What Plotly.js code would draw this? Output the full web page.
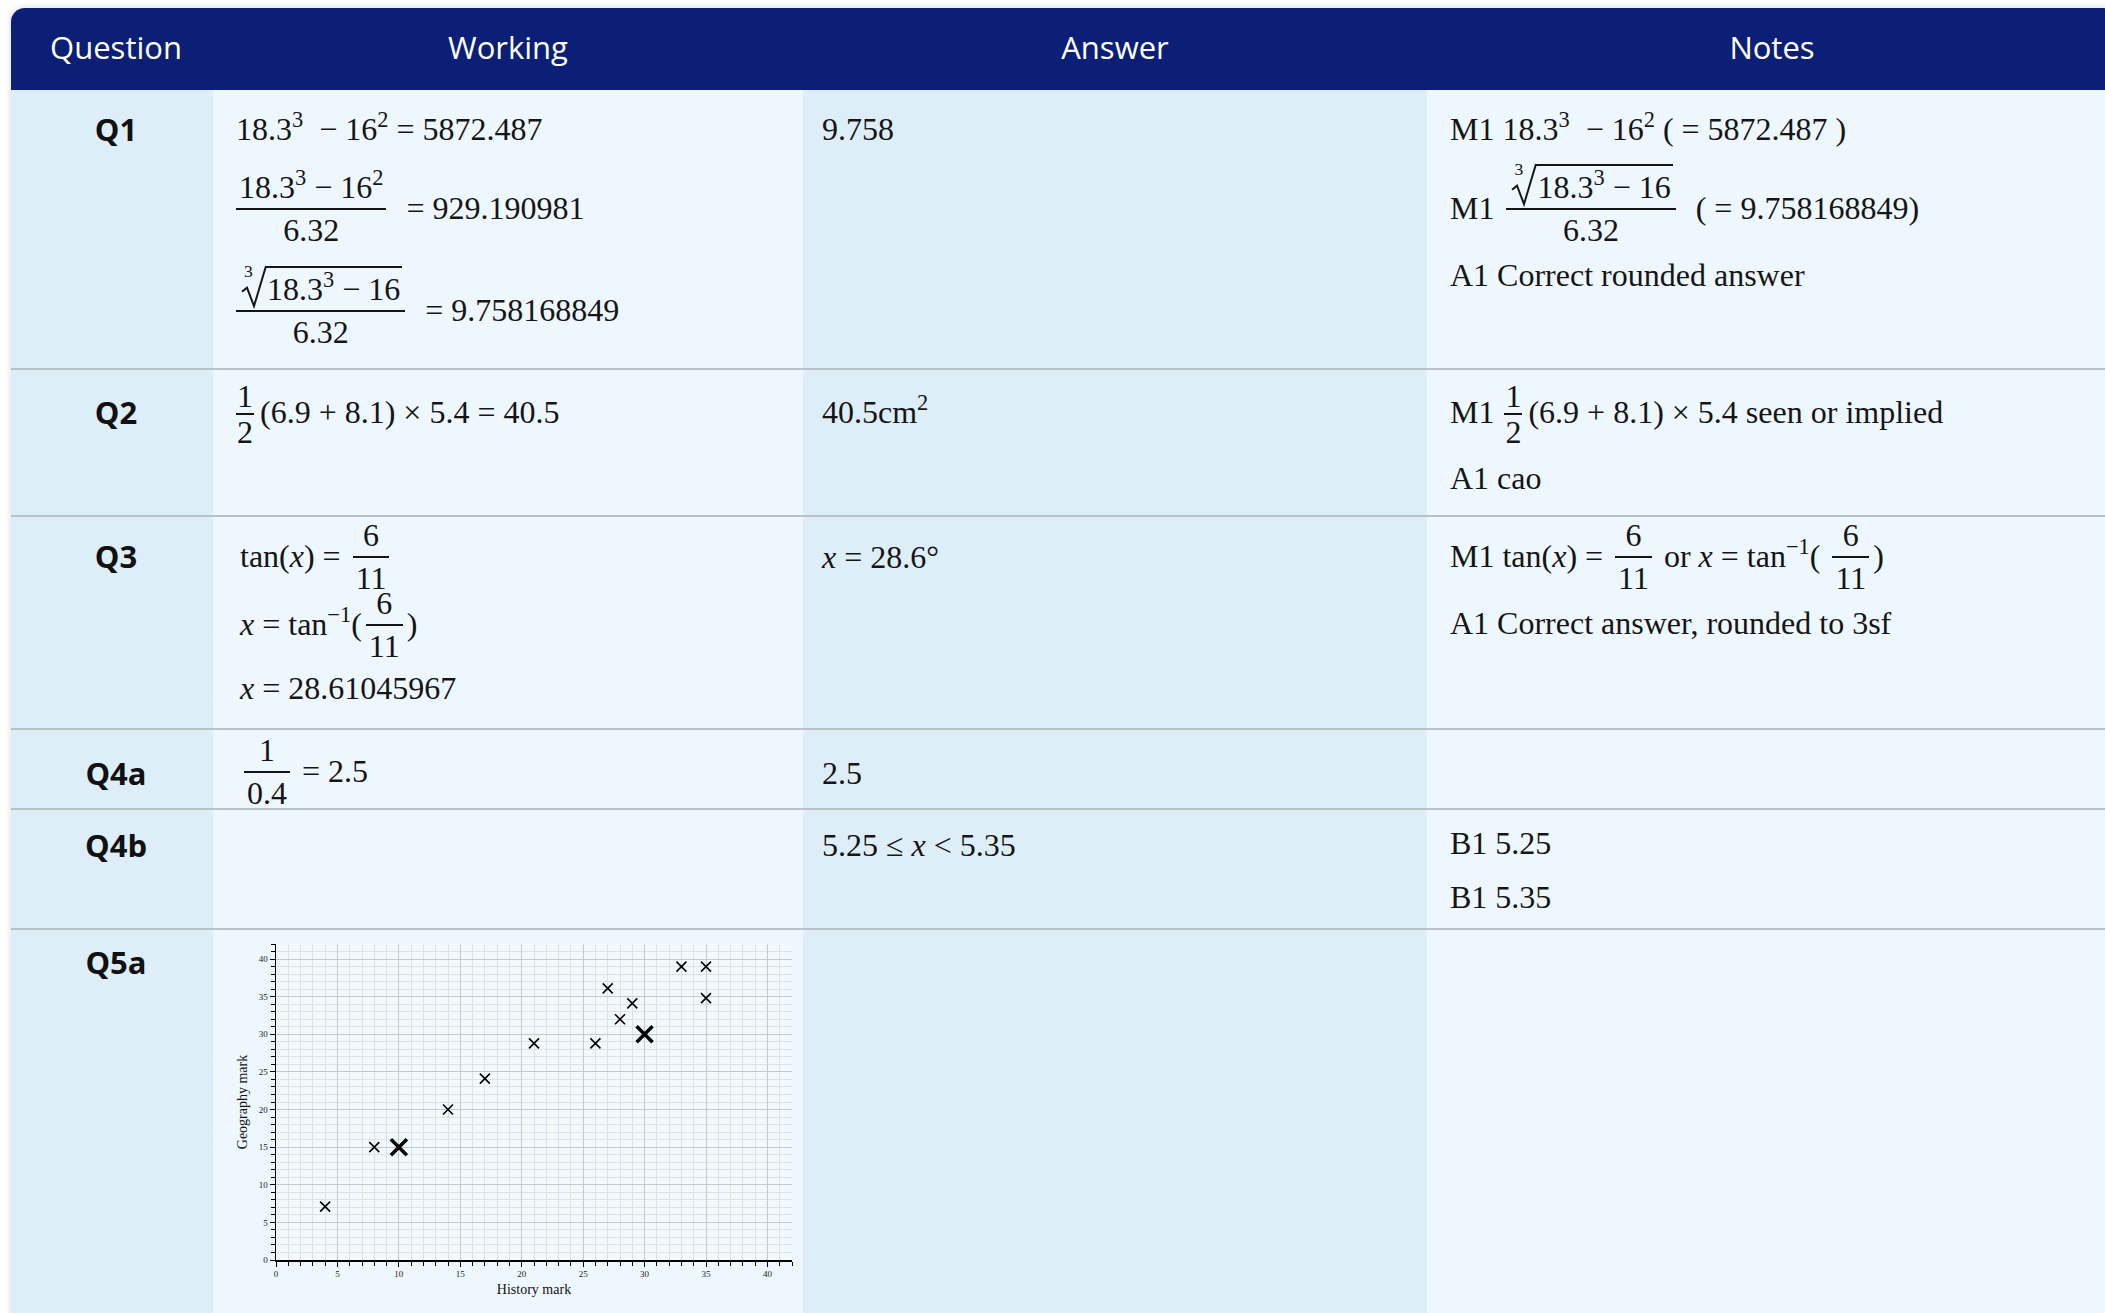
<!DOCTYPE html>
<html>
<head>
<meta charset="utf-8">
<script src="https://cdn.plot.ly/plotly-3.0.1.min.js"></script>
<style>
html, body { margin: 0; padding: 0; background: #fff; width: 2105px; height: 1313px; overflow: hidden; }
#tabla { position: absolute; left: 11px; top: 8px; width: 2106px; height: 1330px; border-radius: 14px 14px 0 0; overflow: hidden; box-shadow: 0 0 7px rgba(0,0,0,0.16); }
.col { position: absolute; top: 0; height: 100%; }
.cab { position: absolute; left: 0; top: 0; width: 100%; height: 82px; background: #0a1f75; }
.htxt { position: absolute; font-family: 'Open Sans'; font-size: 31px; color: #fff; transform: translate(-50%, -50%); white-space: nowrap; }
.qlab { position: absolute; font-family: 'Open Sans'; font-weight: 700; font-size: 31px; color: #111; transform: translate(-50%, -50%); white-space: nowrap; }
.sep { position: absolute; left: 11px; width: 2106px; height: 2px; background: #b9c0c7; }
.ln { position: absolute; font-family: 'Liberation Serif'; font-size: 32px; color: #151515; white-space: pre; line-height: 1.1; }
.bl { display: inline-block; width: 0; height: 0; vertical-align: baseline; }
sup { font-size: 0.7em; vertical-align: 0.6em; line-height: 0; }
.frac { display: inline-block; vertical-align: calc(-0.5675em - 4px); margin: 0 4px; line-height: 1.1; }
.frac.lo { vertical-align: calc(-0.78em + 5px); line-height: 1.0; margin: 0 6px 0 2px; }
.frac .nu { display: block; text-align: center; padding: 0 3px 3px 3px; }
.frac .de { display: block; text-align: center; padding: 3px 3px 0 3px; }
.frac.lo .nu { padding: 0 1px 1px 1px; }
.frac.lo .de { padding: 1px 1px 0 1px; }
.frac .br { display: block; height: 2px; background: #151515; }
.root { display: inline-block; position: relative; padding-left: 26px; }
.root .rad { display: inline-block; border-top: 2px solid #151515; padding: 4px 2px 0 2px; }
.root svg { position: absolute; left: 0; top: 0; width: 27px; height: 100%; overflow: visible; }
.root svg path { fill: none; stroke: #151515; stroke-width: 2; vector-effect: non-scaling-stroke; }
.root .idx { position: absolute; left: 5px; top: -3px; font-size: 0.55em; line-height: 1; }
#grafico { position: absolute; left: 215px; top: 935px; width: 600px; height: 378px; }
</style>
</head>
<body>
<div id="tabla"></div>
<div id="grafico"></div>
<script>
// encabezados y etiquetas de la tabla
const encabezados = ['Question', 'Working', 'Answer', 'Notes'];
const preguntas = ['Q1', 'Q2', 'Q3', 'Q4a', 'Q4b', 'Q5a'];

// diagrama de dispersión (Q5a)
const notasHistoria = [4, 8, 14, 17, 21, 26, 27, 28, 29, 33, 35, 35];
const notasGeografia = [7.1, 15, 20, 24.1, 28.8, 28.8, 36.1, 32, 34.1, 39, 39, 34.8];
const historiaMarcada = [10, 30];
const geografiaMarcada = [15, 30];

// geometría de la tabla (coordenadas de página)
const columnasX = [11, 213, 803, 1427, 2117];
const coloresCol = ['#deeef9', '#eef7fe', '#deeef9', '#eef7fe'];
const encabezadosX = [116, 508, 1115, 1772];
const filasY = [90, 369, 516, 729, 809, 929];
const etiquetasY = [129, 412, 556, 773, 845, 962];

function sup(s) { return '<sup>' + s + '</sup>'; }
function it(s) { return '<i>' + s + '</i>'; }
function frac(n, d, cls) {
    return '<span class="frac ' + (cls || '') + '"><span class="nu">' + n + '</span><span class="br"></span><span class="de">' + d + '</span></span>';
}
function raiz(s) {
    return '<span class="root"><span class="idx">3</span>' +
        '<svg viewBox="0 0 27 40" preserveAspectRatio="none"><path d="M3 25 L8 21 L15 39 L27 0"/></svg>' +
        '<span class="rad">' + s + '</span></span>';
}

const base = '18.3' + sup('3') + ' \u2212 16';
const lineas = [
    // Working
    [236, 129, '18.3' + sup('3') + '  \u2212 16' + sup('2') + ' = 5872.487'],
    [232, 208, frac(base + sup('2'), '6.32') + '  = 929.190981'],
    [232, 310, frac(raiz(base), '6.32') + '  = 9.758168849'],
    [234, 412, frac('1', '2', 'lo') + '(6.9 + 8.1) \u00d7 5.4 = 40.5'],
    [240, 556, 'tan(' + it('x') + ') = ' + frac('6', '11')],
    [240, 624, it('x') + ' = tan' + sup('\u22121') + '(' + frac('6', '11') + ')'],
    [240, 688, it('x') + ' = 28.61045967'],
    [240, 771, frac('1', '0.4') + ' = 2.5'],
    // Answer
    [822, 129, '9.758'],
    [822, 412, '40.5cm' + sup('2')],
    [822, 557, it('x') + ' = 28.6\u00b0'],
    [822, 773, '2.5'],
    [822, 845, '5.25 \u2264 ' + it('x') + ' < 5.35'],
    // Notes
    [1450, 129, 'M1 18.3' + sup('3') + '  \u2212 16' + sup('2') + ' ( = 5872.487 )'],
    [1450, 208, 'M1 ' + frac(raiz(base), '6.32') + '  ( = 9.758168849)'],
    [1450, 275, 'A1 Correct rounded answer'],
    [1450, 412, 'M1 ' + frac('1', '2', 'lo') + '(6.9 + 8.1) \u00d7 5.4 seen or implied'],
    [1450, 478, 'A1 cao'],
    [1450, 556, 'M1 tan(' + it('x') + ') = ' + frac('6', '11') + ' or ' + it('x') + ' = tan' + sup('\u22121') + '( ' + frac('6', '11') + ')'],
    [1450, 623, 'A1 Correct answer, rounded to 3sf'],
    [1450, 843, 'B1 5.25'],
    [1450, 897, 'B1 5.35']
];

const tabla = document.getElementById('tabla');
for (let i = 0; i < 4; i++) {
    const c = document.createElement('div');
    c.className = 'col';
    c.style.left = (columnasX[i] - 11) + 'px';
    c.style.width = (columnasX[i + 1] - columnasX[i]) + 'px';
    c.style.background = coloresCol[i];
    tabla.appendChild(c);
}
const cab = document.createElement('div');
cab.className = 'cab';
tabla.appendChild(cab);

encabezados.forEach((t, i) => {
    const d = document.createElement('div');
    d.className = 'htxt';
    d.textContent = t;
    d.style.left = encabezadosX[i] + 'px';
    d.style.top = '47px';
    document.body.appendChild(d);
});

filasY.slice(1).forEach(y => {
    const s = document.createElement('div');
    s.className = 'sep';
    s.style.top = (y - 1) + 'px';
    document.body.appendChild(s);
});

preguntas.forEach((q, i) => {
    const d = document.createElement('div');
    d.className = 'qlab';
    d.textContent = q;
    d.style.left = '116px';
    d.style.top = etiquetasY[i] + 'px';
    document.body.appendChild(d);
});

lineas.forEach(([x, y, html]) => {
    const d = document.createElement('div');
    d.className = 'ln';
    d.innerHTML = '<span class="bl"></span>' + html;
    d.style.left = x + 'px';
    d.style.top = (y - 30) + 'px';
    d.dataset.y = y;
    document.body.appendChild(d);
});

// alinear cada línea por su línea base: centro de las cifras en y
document.querySelectorAll('.ln').forEach(el => {
    const b = el.querySelector('.bl').getBoundingClientRect().top;
    const objetivo = parseFloat(el.dataset.y) + 10.8;
    el.style.top = (parseFloat(el.style.top) + objetivo - b) + 'px';
});

const ejeBase = {
    range: [0, 42], dtick: 5, tick0: 0,
    ticks: 'outside', ticklen: 5, tickwidth: 1, tickcolor: '#000',
    showline: true, linecolor: '#000', linewidth: 1.5,
    showgrid: true, gridcolor: '#c8c8c8', gridwidth: 1,
    zeroline: false, fixedrange: true,
    tickfont: { family: 'Liberation Serif', size: 9, color: '#222' },
    minor: { dtick: 1, ticks: 'outside', ticklen: 4, tickcolor: '#000', showgrid: true, gridcolor: '#dfe2e5', gridwidth: 1 }
};

const trazas = [{
    x: notasHistoria,
    y: notasGeografia,
    type: 'scatter',
    mode: 'markers',
    marker: { symbol: 'x-thin', size: 10, color: '#000', line: { width: 1.6, color: '#000' } },
    hoverinfo: 'skip'
}, {
    x: historiaMarcada,
    y: geografiaMarcada,
    type: 'scatter',
    mode: 'markers',
    marker: { symbol: 'x-thin', size: 16, color: '#000', line: { width: 3.5, color: '#000' } },
    hoverinfo: 'skip'
}];

const layout = {
    width: 600, height: 378,
    margin: { l: 61, r: 23, t: 9, b: 53 },
    paper_bgcolor: 'rgba(0,0,0,0)',
    plot_bgcolor: 'rgba(255,255,255,0.25)',
    showlegend: false,
    xaxis: Object.assign({}, ejeBase, {
        title: { text: 'History mark', font: { family: 'Liberation Serif', size: 14, color: '#111' }, standoff: 6 }
    }),
    yaxis: Object.assign({}, ejeBase, {
        title: { text: 'Geography mark', font: { family: 'Liberation Serif', size: 14, color: '#111' }, standoff: 8 }
    })
};

Plotly.newPlot('grafico', trazas, layout, { staticPlot: true, displayModeBar: false });
</script>
</body>
</html>
